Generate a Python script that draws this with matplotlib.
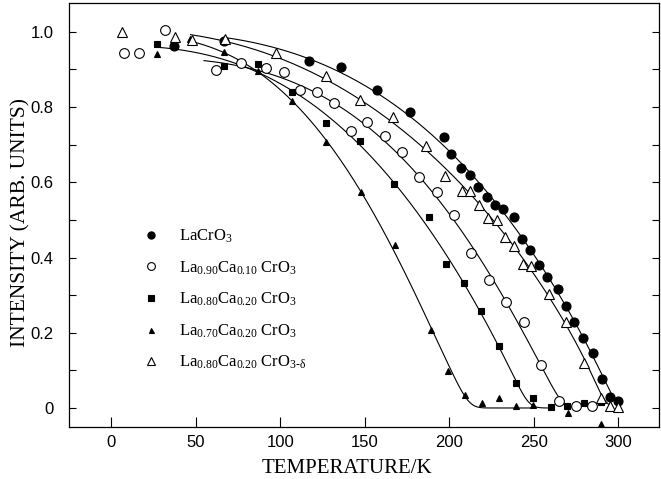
#!/usr/bin/env python3
# coding: utf-8
# Normalised intensity vs temperature for La(1-x)Ca(x)CrO3 samples

import matplotlib

matplotlib.use("Agg")
import matplotlib.pyplot as plt
import numpy as np
from matplotlib.ticker import FixedLocator, MultipleLocator

# LaCrO3 (filled circles)
t_lacro3 = [37, 67, 117, 136, 157, 177, 197, 201, 207, 212, 217, 222, 227, 232, 238,
            243, 248, 253, 258, 264, 269, 274, 279, 285, 290, 295, 300]
i_lacro3 = [0.963, 0.976, 0.923, 0.907, 0.845, 0.787, 0.720, 0.675, 0.637, 0.619, 0.587,
            0.560, 0.539, 0.528, 0.507, 0.448, 0.421, 0.381, 0.349, 0.315, 0.272, 0.229,
            0.187, 0.147, 0.077, 0.029, 0.019]

# La0.90Ca0.10CrO3 (open circles)
t_ca10 = [7.6, 16.5, 31.7, 62, 76.8, 91.5, 102, 112, 121.8, 132, 142, 151.6, 162, 171.8,
          182, 192.5, 202.6, 213, 223.5, 233.5, 244, 254.3, 265, 274.8, 284.6]
i_ca10 = [0.945, 0.945, 1.005, 0.899, 0.917, 0.904, 0.893, 0.845, 0.840, 0.811, 0.736,
          0.760, 0.723, 0.680, 0.613, 0.573, 0.512, 0.413, 0.340, 0.282, 0.229, 0.115,
          0.019, 0.006, 0.006]

# La0.80Ca0.20CrO3 (filled squares)
t_ca20 = [27, 67, 86.8, 107, 127, 147, 167.4, 187.8, 197.9, 208.5, 219, 229.3, 239.6,
          249.5, 260, 269.7, 279.8, 289.7]
i_ca20 = [0.968, 0.909, 0.915, 0.840, 0.757, 0.709, 0.595, 0.508, 0.384, 0.331, 0.259,
          0.165, 0.067, 0.027, 0.003, 0.005, 0.013, 0.017]

# La0.70Ca0.20CrO3 (filled triangles)
t_la70 = [27, 46.8, 67, 86.8, 107, 127.2, 147.6, 168, 189, 199, 209.5, 219.3, 229.3,
          239.6, 249.7, 270, 289.7]
i_la70 = [0.942, 0.981, 0.946, 0.897, 0.815, 0.706, 0.573, 0.433, 0.208, 0.097, 0.035,
          0.012, 0.027, 0.006, 0.008, -0.013, -0.043]

# La0.80Ca0.20CrO3-delta (open triangles)
t_delta = [6.7, 37.9, 47.8, 67.5, 97.5, 127, 147, 166.6, 186.2, 197.5, 207.5, 212.4,
           217.8, 222.7, 228, 233, 238.3, 243.3, 248.5, 258.8, 269, 279.5, 289.8, 295, 300]
i_delta = [1.000, 0.985, 0.977, 0.980, 0.943, 0.882, 0.820, 0.773, 0.697, 0.617, 0.577,
           0.578, 0.540, 0.504, 0.500, 0.454, 0.430, 0.383, 0.377, 0.304, 0.229, 0.119,
           0.026, 0.005, 0.003]

labels = [
    r"$\mathrm{LaCrO_3}$",
    r"$\mathrm{La_{0.90}Ca_{0.10}\ CrO_3}$",
    r"$\mathrm{La_{0.80}Ca_{0.20}\ CrO_3}$",
    r"$\mathrm{La_{0.70}Ca_{0.20}\ CrO_3}$",
    r"$\mathrm{La_{0.80}Ca_{0.20}\ CrO_{3\text{-}\delta}}$",
]


def fit_curve(t, y, t0, t1, sigma=4.0):
    "Grid-search fit of A*(1-(T/Tc)^a)^b to the points, then smooth a little"
    t = np.asarray(t, float)
    y = np.asarray(y, float)
    m = t >= t0
    t, y = t[m], y[m]
    tc, al, be = np.meshgrid(np.arange(150, 320, 1.0), np.linspace(1, 8, 29),
                             np.linspace(0.15, 1.5, 28), indexing="ij")
    tc, al, be = tc.ravel()[:, None], al.ravel()[:, None], be.ravel()[:, None]
    x = np.clip(1 - (t[None, :] / tc) ** al, 0, None) ** be
    a = (x * y).sum(1, keepdims=True) / np.maximum((x * x).sum(1, keepdims=True), 1e-9)
    k = np.argmin(((a * x - y) ** 2).sum(1))
    tt = np.arange(t0 - 30, t1 + 30, 0.5)
    f = a[k, 0] * np.clip(1 - (tt / tc[k, 0]) ** al[k, 0], 0, None) ** be[k, 0]
    g = np.arange(-4 * sigma, 4 * sigma + 0.5, 0.5)
    w = np.exp(-0.5 * (g / sigma) ** 2)
    fs = np.convolve(f, w / w.sum(), mode="same")
    keep = (tt >= t0) & (tt <= t1)
    return tt[keep], fs[keep]


plt.rcParams["mathtext.fontset"] = "custom"
plt.rcParams["mathtext.rm"] = "Liberation Serif"
plt.rcParams["mathtext.it"] = "Liberation Serif:italic"

fig = plt.figure(figsize=(6.61, 4.79), dpi=100)
ax = fig.add_axes([0.104, 0.109, 0.893, 0.885])

series = [
    (t_lacro3, i_lacro3, dict(marker="o", mfc="black", ms=6.5), 67, 297),
    (t_ca10, i_ca10, dict(marker="o", mfc="white", ms=7), 55, 265),
    (t_ca20, i_ca20, dict(marker="s", mfc="black", ms=5), 27, 258),
    (t_la70, i_la70, dict(marker="^", mfc="black", ms=4.5), 47, 250),
    (t_delta, i_delta, dict(marker="^", mfc="white", ms=7.5), 47, 296),
]

handles = []
for (t, y, style, t0, t1), lab in zip(series, labels):
    ct, cy = fit_curve(t, y, t0, t1)
    ax.plot(ct, cy, color="black", lw=0.8, zorder=2)
    (h,) = ax.plot(t, y, ls="none", mec="black", mew=0.8, zorder=3, label=lab, **style)
    handles.append(h)

ax.legend(handles=handles, loc="upper left", bbox_to_anchor=(0.1, 0.505), frameon=False,
          prop={"family": "Liberation Serif", "size": 12}, labelspacing=0.85,
          handletextpad=1.2, handlelength=1.0, markerscale=0.8)

ax.set_xlim(-25, 324)
ax.set_ylim(-0.05, 1.077)

ax.xaxis.set_major_locator(MultipleLocator(50))
ax.xaxis.set_minor_locator(FixedLocator([0, 100, 200, 300]))
ax.yaxis.set_major_locator(FixedLocator([0, 0.2, 0.4, 0.6, 0.8, 1.0]))
ax.yaxis.set_minor_locator(MultipleLocator(0.1))
ax.set_yticklabels(["0", "0.2", "0.4", "0.6", "0.8", "1.0"])

ax.tick_params(axis="x", which="major", direction="in", length=7, width=0.8,
               top=False, bottom=True, pad=6)
ax.tick_params(axis="x", which="minor", direction="in", length=4, width=0.8,
               top=True, bottom=False)
ax.tick_params(axis="y", which="both", direction="in", length=5, width=0.8,
               left=True, right=True, pad=11)
for lab in ax.get_xticklabels() + ax.get_yticklabels():
    lab.set_fontfamily("Liberation Sans")
    lab.set_fontsize(12)

ax.set_xlabel("TEMPERATURE/K", family="Liberation Serif", fontsize=15, labelpad=7)
ax.xaxis.set_label_coords(0.472, -0.075)
ax.set_ylabel("INTENSITY (ARB. UNITS)", family="Liberation Serif", fontsize=15.5)
ax.yaxis.set_label_coords(-0.064, 0.483)

for s in ax.spines.values():
    s.set_linewidth(0.9)

fig.savefig("out.png", dpi=100)
